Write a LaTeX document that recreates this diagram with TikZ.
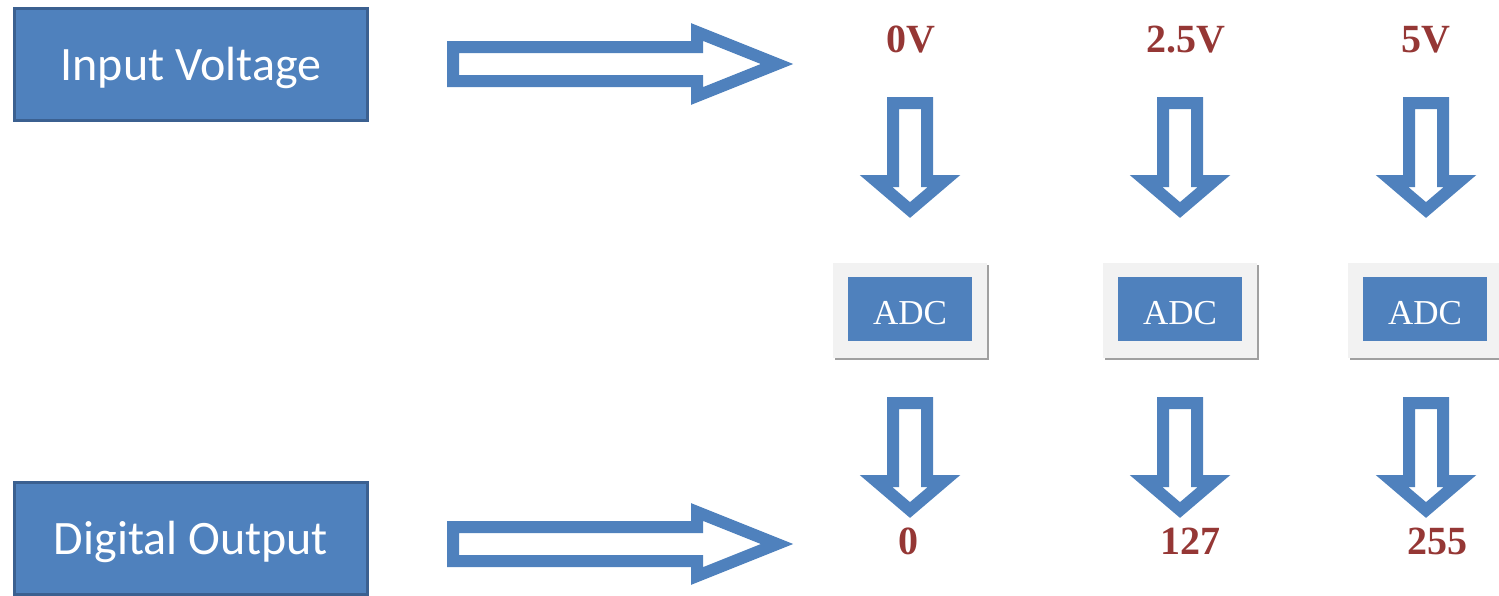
\documentclass[tikz,border=0pt]{standalone}
\usepackage{fontspec}
\setmainfont{Liberation Serif}
\newfontfamily\boxfont{Carlito}
\newfontfamily\serfont{Liberation Serif}
\definecolor{boxblue}{HTML}{4F81BD}
\definecolor{boxedge}{HTML}{3B6090}
\definecolor{arrblue}{HTML}{4F81BD}
\definecolor{labred}{HTML}{953735}
\definecolor{panelgray}{HTML}{F2F2F2}
\definecolor{shadowgray}{HTML}{A0A0A0}
\begin{document}
\begin{tikzpicture}[x=0.5pt,y=-0.5pt,
  titlebox/.style={draw=boxedge, fill=boxblue, line width=1.5pt, minimum width=176.5pt, minimum height=56pt, inner sep=0pt, text=white, font=\boxfont\fontsize{24}{27}\selectfont},
  panel/.style={fill=panelgray, minimum width=77pt, minimum height=47.5pt, inner sep=0pt},
  panelshadow/.style={fill=shadowgray, minimum width=77pt, minimum height=47.5pt, inner sep=0pt},
  adcbox/.style={fill=boxblue, minimum width=62pt, minimum height=32pt, inner sep=0pt, text=white, font=\serfont\fontsize{17.5}{20}\selectfont},
  vlabel/.style={text=labred, inner sep=0pt, font=\serfont\bfseries\fontsize{20}{24}\selectfont},
  blockarrow/.style={draw=arrblue, line width=6pt, fill=white, miter limit=20}
]
\useasboundingbox (0,0) rectangle (1499,595);
\clip (0,0) rectangle (1499,595);

% title boxes
\node[titlebox] (inbox) at (191,64.5) {};
\node[text=white, font=\boxfont\fontsize{24}{27}\selectfont] (intext) at (191,68) {Input Voltage};
\node[titlebox] (outbox) at (191,538.5) {};
\node[text=white, font=\boxfont\fontsize{24}{27}\selectfont] (outtext) at (191,542) {Digital Output};

% voltage labels
\node[vlabel] (v0) at (911,40) {0V};
\node[vlabel] (v1) at (1186,40) {2.5V};
\node[vlabel] (v2) at (1426,40) {5V};

% output labels
\node[vlabel] (d0) at (908,541) {0};
\node[vlabel] (d1) at (1190,541) {127};
\node[vlabel] (d2) at (1437,541) {255};

% ADC panels
\foreach \c/\n in {910/0,1180/1,1425/2}{
  \node[panelshadow] (sh\n) at (\c+2,312.5) {};
  \node[panel] (pan\n) at (\c,310.5) {};
  \node[adcbox] (adc\n) at (\c,309) {};
  \node[text=white, inner sep=0pt, font=\serfont\fontsize{17.5}{20}\selectfont] (adct\n) at (\c,313) {ADC};
}

% horizontal block arrows
\draw[blockarrow] (inbox.east) ++(78,-1.5) ++(6,-16) -- ++(244,0) -- ++(0,-15) -- ++(80,32) -- ++(-80,32) -- ++(0,-15) -- ++(-244,0) -- cycle;
\draw[blockarrow] (outbox.east) ++(78,4.5) ++(6,-16) -- ++(244,0) -- ++(0,-15) -- ++(80,32) -- ++(-80,32) -- ++(0,-15) -- ++(-244,0) -- cycle;

% vertical block arrows
\foreach \c in {910,1180,1426}{
  \draw[blockarrow] (\c,97) ++(-17,6) -- ++(0,78) -- ++(-17,0) -- ++(34,29) -- ++(34,-29) -- ++(-17,0) -- ++(0,-78) -- cycle;
  \draw[blockarrow] (\c,397) ++(-17,6) -- ++(0,78) -- ++(-17,0) -- ++(34,29) -- ++(34,-29) -- ++(-17,0) -- ++(0,-78) -- cycle;
}
\end{tikzpicture}
\end{document}
